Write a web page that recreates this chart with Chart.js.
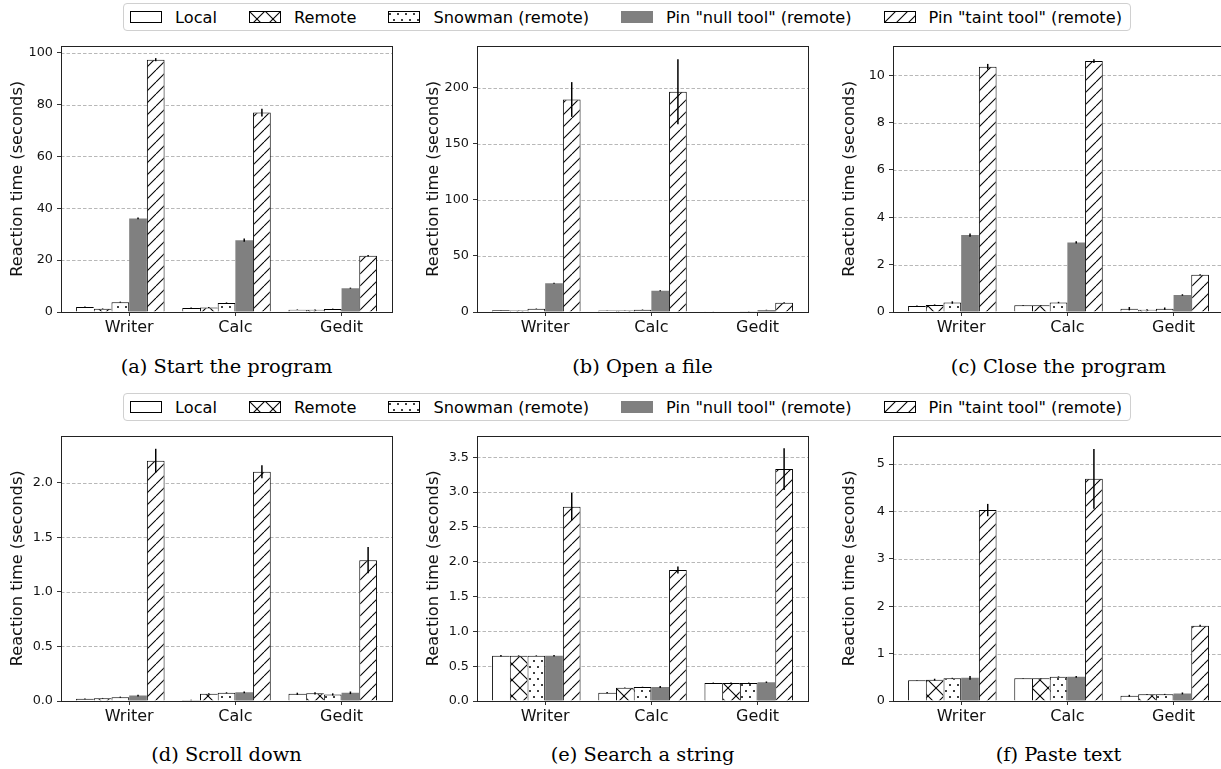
<!DOCTYPE html>
<html lang="en">
<head>
<meta charset="UTF-8">
<title>Reaction time</title>
<script src="https://cdn.jsdelivr.net/npm/chart.js"></script>
<style>
  html, body { margin: 0; padding: 0; background: #fff; overflow: hidden; width: 1221px; height: 769px; }
  .panel { position: absolute; }
  .caption { position: absolute; width: 331px; text-align: center; font-family: 'DejaVu Serif'; font-size: 19.4px; line-height: 24px; color: #000; }
  .legend { position: absolute; left: 123px; height: 26px; border: 1px solid #d0d0d0; border-radius: 4px; background: #fff;
            display: flex; align-items: center; padding: 0 8px 0 6px; font-family: 'DejaVu Sans'; font-size: 16.2px; color: #000; }
  .legend .item { display: flex; align-items: center; margin-right: 32px; white-space: pre; }
  .legend .item:last-child { margin-right: 0; }
  .legend canvas { margin-right: 13px; }
</style>
</head>
<body>
<script>
    // categories and series
    const apps = ['Writer', 'Calc', 'Gedit'];
    const seriesNames = ['Local', 'Remote', 'Snowman (remote)', 'Pin "null tool" (remote)', 'Pin "taint tool" (remote)'];

    // (a) Start the program : one row per series, one value per app
    const startVals = [[1.9, 1.5, 0.9], [1.3, 1.7, 0.9], [3.8, 3.5, 1.2], [36.1, 27.7, 9.2], [97.3, 76.9, 21.7]];
    const startErrs = [[0.2, 0.2, 0.1], [0.1, 0.2, 0.1], [0.2, 0.2, 0.1], [0.3, 0.6, 0.2], [0.6, 1.5, 0.3]];
    const startTicks = [0, 20, 40, 60, 80, 100];

    // (b) Open a file
    const openVals = [[1.5, 1.3, 0.3], [1.4, 1.3, 0.5], [2.9, 2.0, 0.6], [25.7, 19.0, 1.8], [189.5, 196.5, 8.2]];
    const openErrs = [[0.1, 0.1, 0.05], [0.1, 0.1, 0.05], [0.2, 0.2, 0.1], [0.4, 0.4, 0.2], [15.5, 29.0, 0.5]];
    const openTicks = [0, 50, 100, 150, 200];

    // (c) Close the program
    const closeVals = [[0.25, 0.28, 0.14], [0.3, 0.28, 0.1], [0.4, 0.4, 0.14], [3.25, 2.94, 0.72], [10.36, 10.6, 1.57]];
    const closeErrs = [[0.02, 0.02, 0.07], [0.02, 0.02, 0.02], [0.05, 0.03, 0.05], [0.07, 0.05, 0.03], [0.12, 0.08, 0.02]];
    const closeTicks = [0, 2, 4, 6, 8, 10];

    // (d) Scroll down
    const scrollVals = [[0.02, 0.01, 0.066], [0.025, 0.066, 0.07], [0.035, 0.075, 0.06], [0.05, 0.08, 0.075], [2.2, 2.1, 1.29]];
    const scrollErrs = [[0.003, 0.002, 0.01], [0.003, 0.005, 0.01], [0.005, 0.005, 0.01], [0.008, 0.008, 0.012], [0.11, 0.06, 0.12]];
    const scrollTicks = [0, 0.5, 1.0, 1.5, 2.0];

    // (e) Search a string
    const searchVals = [[0.65, 0.12, 0.26], [0.65, 0.19, 0.26], [0.65, 0.2, 0.26], [0.65, 0.2, 0.27], [2.79, 1.88, 3.33]];
    const searchErrs = [[0.01, 0.01, 0.005], [0.005, 0.005, 0.005], [0.005, 0.005, 0.005], [0.01, 0.015, 0.01], [0.2, 0.05, 0.3]];
    const searchTicks = [0, 0.5, 1.0, 1.5, 2.0, 2.5, 3.0, 3.5];

    // (f) Paste text
    const pasteVals = [[0.44, 0.48, 0.11], [0.45, 0.48, 0.14], [0.48, 0.51, 0.14], [0.49, 0.51, 0.16], [4.03, 4.69, 1.59]];
    const pasteErrs = [[0.005, 0.005, 0.02], [0.02, 0.005, 0.01], [0.01, 0.01, 0.01], [0.04, 0.02, 0.02], [0.13, 0.63, 0.02]];
    const pasteTicks = [0, 1, 2, 3, 4, 5];

    Chart.defaults.font.family = "'DejaVu Sans'";

    const X_MIN = -0.142, X_MAX = 2.975;   // axis limits, bars sit in slots of 1/6
    const SLOT = 1 / 6;
    const PLOT_W = 331, AXIS_W = 61, PAD = 6, XAXIS_H = 34;

    // hatch fills, matplotlib-ish
    function makeFill(kind) {
        const c = document.createElement('canvas');
        const g = c.getContext('2d');
        if (kind === 'none') return '#ffffff';
        if (kind === 'gray') return '#808080';
        if (kind === 'diag' || kind === 'cross') {
            const p = kind === 'diag' ? 12 : 16;
            c.width = p; c.height = p;
            g.fillStyle = '#fff'; g.fillRect(0, 0, p, p);
            g.strokeStyle = '#000'; g.lineWidth = 1.1;
            for (const o of [-p, 0, p]) {
                g.beginPath(); g.moveTo(o, p); g.lineTo(o + p, 0); g.stroke();
                if (kind === 'cross') { g.beginPath(); g.moveTo(o, 0); g.lineTo(o + p, p); g.stroke(); }
            }
        } else if (kind === 'dots') {
            c.width = 8; c.height = 12;
            g.fillStyle = '#fff'; g.fillRect(0, 0, 8, 12);
            g.fillStyle = '#000';
            g.beginPath(); g.arc(2, 3, 1, 0, Math.PI * 2); g.fill();
            g.beginPath(); g.arc(6, 9, 1, 0, Math.PI * 2); g.fill();
        }
        return g.createPattern(c, 'repeat');
    }

    const fillKinds = ['none', 'cross', 'dots', 'gray', 'diag'];
    const fills = fillKinds.map(makeFill);
    const borderColors = ['#000', '#000', '#000', '#808080', '#000'];
    const borderWidths = [
        {left: 1, top: 1, right: 0, bottom: 0},
        {left: 1, top: 1, right: 0, bottom: 0},
        {left: 1, top: 1, right: 1, bottom: 0},
        0,
        {left: 1, top: 1, right: 1, bottom: 0}
    ];

    // dashed horizontal grid
    const dashGrid = {
        id: 'dashGrid',
        beforeDatasetsDraw(chart) {
            const {ctx, chartArea: a, scales: {y}} = chart;
            ctx.save();
            ctx.strokeStyle = '#b0b0b0';
            ctx.lineWidth = 0.9;
            ctx.setLineDash([3.5, 2]);
            y.ticks.forEach(t => {
                if (t.value <= 0) return;
                const py = Math.round(y.getPixelForValue(t.value)) + 0.5;
                ctx.beginPath(); ctx.moveTo(a.left, py); ctx.lineTo(a.right, py); ctx.stroke();
            });
            ctx.restore();
        }
    };

    // error bars + axes frame
    const errFrame = {
        id: 'errFrame',
        afterDatasetsDraw(chart) {
            const {ctx, chartArea: a, scales: {y}} = chart;
            ctx.save();
            ctx.strokeStyle = '#000';
            ctx.lineWidth = 1.5;
            chart.data.datasets.forEach((ds, d) => {
                const meta = chart.getDatasetMeta(d);
                meta.data.forEach((bar, j) => {
                    const v = ds.data[j].y, e = ds.errs[j];
                    if (!e) return;
                    ctx.beginPath();
                    ctx.moveTo(bar.x, y.getPixelForValue(v - e));
                    ctx.lineTo(bar.x, y.getPixelForValue(v + e));
                    ctx.stroke();
                });
            });
            ctx.strokeStyle = '#222';
            ctx.lineWidth = 1;
            const l = Math.round(a.left) + 0.5, t = Math.round(a.top) + 0.5;
            ctx.strokeRect(l, t, Math.round(a.right) - Math.round(a.left), Math.round(a.bottom) - Math.round(a.top));
            ctx.restore();
        }
    };

    function makePanel(p) {
        const wrap = document.createElement('div');
        wrap.className = 'panel';
        wrap.style.left = (p.x - AXIS_W) + 'px';
        wrap.style.top = (p.y - PAD) + 'px';
        const cv = document.createElement('canvas');
        cv.width = AXIS_W + PLOT_W + PAD;
        cv.height = PAD + p.h + XAXIS_H;
        wrap.appendChild(cv);
        document.body.appendChild(wrap);

        const cap = document.createElement('div');
        cap.className = 'caption';
        cap.style.left = p.x + 'px';
        cap.style.top = p.capY + 'px';
        cap.textContent = p.caption;
        document.body.appendChild(cap);

        const datasets = seriesNames.map((name, s) => ({
            label: name,
            data: apps.map((a, i) => ({x: i + s * SLOT + SLOT / 2, y: p.vals[s][i]})),
            errs: p.errs[s],
            backgroundColor: fills[s],
            borderColor: borderColors[s],
            borderWidth: borderWidths[s],
            borderSkipped: false,
            inflateAmount: 0,
            grouped: false,
            barPercentage: 1,
            categoryPercentage: 1
        }));

        new Chart(cv, {
            type: 'bar',
            data: {datasets: datasets},
            options: {
                responsive: false,
                animation: false,
                devicePixelRatio: 1,
                layout: {padding: {top: PAD, right: PAD, left: 0, bottom: 0}},
                plugins: {legend: {display: false}, tooltip: {enabled: false}},
                scales: {
                    x: {
                        type: 'linear', min: X_MIN, max: X_MAX, offset: false,
                        afterBuildTicks: sc => { sc.ticks = apps.map((a, i) => ({value: i + 0.5})); },
                        afterFit: sc => { sc.height = XAXIS_H; },
                        grid: {drawOnChartArea: false, drawTicks: true, tickLength: 4, color: '#333', offset: false},
                        border: {display: false},
                        ticks: {callback: v => apps[Math.floor(v)], font: {size: 16}, color: '#111',
                                padding: 2, maxRotation: 0, autoSkip: false}
                    },
                    y: {
                        min: 0, max: p.yMax,
                        afterBuildTicks: sc => { sc.ticks = p.ticks.map(v => ({value: v})); },
                        afterFit: sc => { sc.width = AXIS_W; },
                        grid: {drawOnChartArea: false, drawTicks: true, tickLength: 4, color: '#333'},
                        border: {display: false},
                        ticks: {callback: v => v.toFixed(p.dec), font: {size: 12.8}, color: '#111', padding: 4},
                        title: {display: true, text: 'Reaction time (seconds)', font: {size: 16.2}, color: '#111',
                                padding: {top: 8, bottom: 0}}
                    }
                }
            },
            plugins: [dashGrid, errFrame]
        });
    }

    const panels = [
        {x: 61,  y: 40,  h: 272, capY: 355, caption: '(a) Start the program', vals: startVals,  errs: startErrs,  ticks: startTicks,  yMax: 102.7, dec: 0},
        {x: 477, y: 40,  h: 272, capY: 355, caption: '(b) Open a file',        vals: openVals,   errs: openErrs,   ticks: openTicks,   yMax: 237.5, dec: 0},
        {x: 893, y: 40,  h: 272, capY: 355, caption: '(c) Close the program', vals: closeVals,  errs: closeErrs,  ticks: closeTicks,  yMax: 11.25, dec: 0},
        {x: 61,  y: 430, h: 271, capY: 743, caption: '(d) Scroll down',        vals: scrollVals, errs: scrollErrs, ticks: scrollTicks, yMax: 2.43,  dec: 1},
        {x: 477, y: 430, h: 271, capY: 743, caption: '(e) Search a string',    vals: searchVals, errs: searchErrs, ticks: searchTicks, yMax: 3.81,  dec: 1},
        {x: 893, y: 430, h: 271, capY: 743, caption: '(f) Paste text',         vals: pasteVals,  errs: pasteErrs,  ticks: pasteTicks,  yMax: 5.6,   dec: 0}
    ];
    panels.forEach(makePanel);

    // shared legends above each row
    function makeLegend(top) {
        const box = document.createElement('div');
        box.className = 'legend';
        box.style.top = top + 'px';
        seriesNames.forEach((name, s) => {
            const item = document.createElement('div');
            item.className = 'item';
            const sw = document.createElement('canvas');
            sw.width = 32; sw.height = 12;
            const g = sw.getContext('2d');
            g.fillStyle = fills[s];
            g.fillRect(0, 0, 32, 12);
            if (s !== 3) { g.strokeStyle = '#000'; g.lineWidth = 1; g.strokeRect(0.5, 0.5, 31, 11); }
            item.appendChild(sw);
            const tx = document.createElement('span');
            tx.textContent = name;
            item.appendChild(tx);
            box.appendChild(item);
        });
        document.body.appendChild(box);
    }
    makeLegend(3);
    makeLegend(393);
</script>
</body>
</html>
